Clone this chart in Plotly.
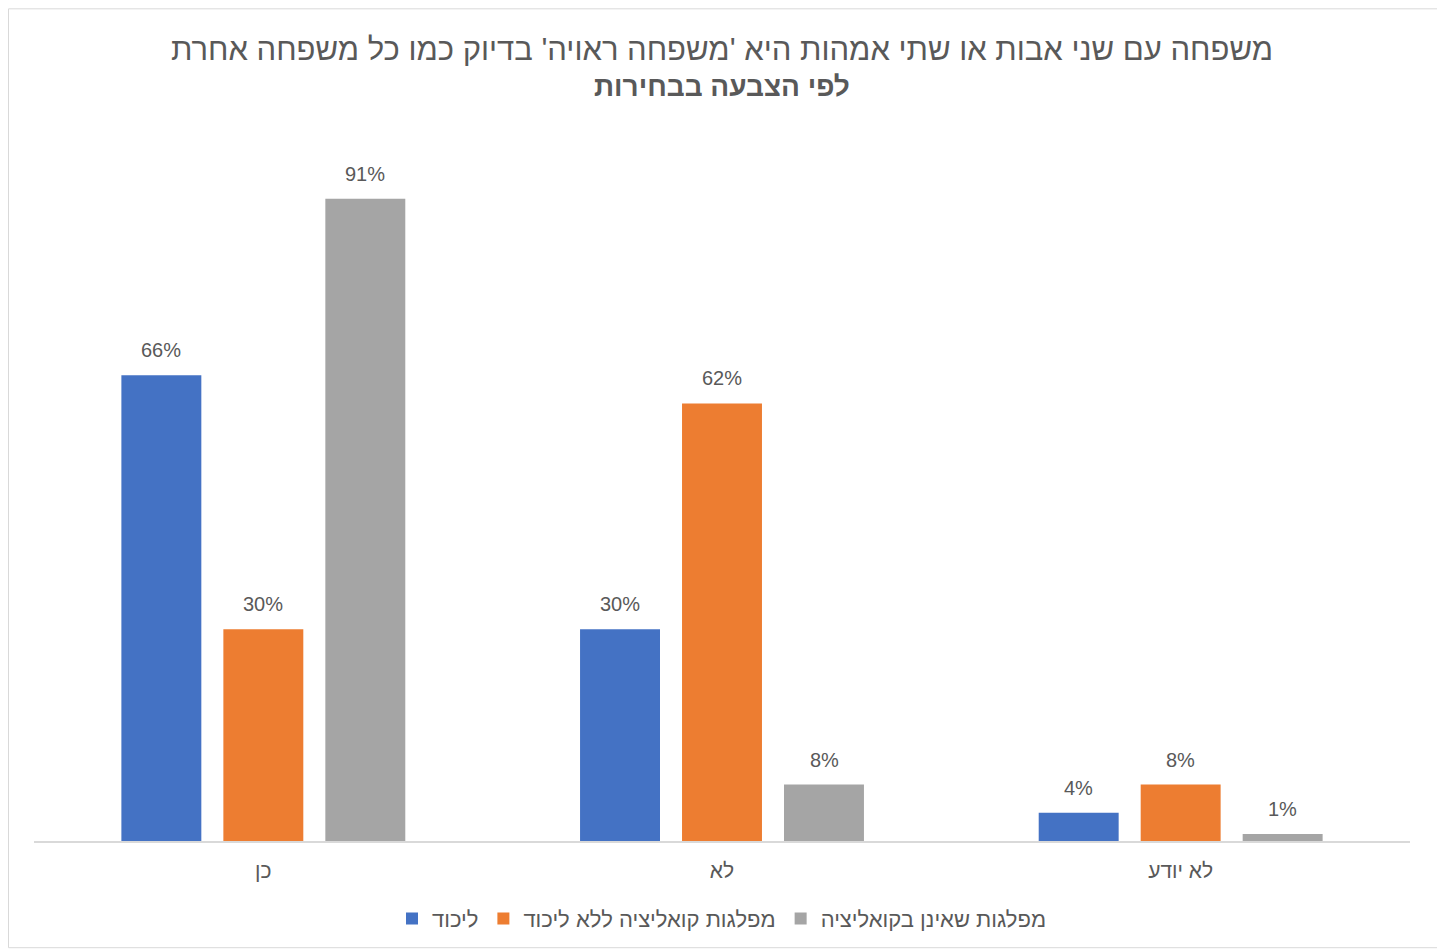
import plotly.graph_objects as go

categories = ["כן", "לא", "לא יודע"]
series_names = ["ליכוד", "מפלגות קואליציה ללא ליכוד", "מפלגות שאינן בקואליציה"]
likud = [66, 30, 4]
coalition_no_likud = [30, 62, 8]
non_coalition = [91, 8, 1]
colors = ["#4472C4", "#ED7D31", "#A5A5A5"]

title_line1 = "משפחה עם שני אבות או שתי אמהות היא 'משפחה ראויה' בדיוק כמו כל משפחה אחרת"
title_line2 = "לפי הצבעה בבחירות"

FONT = "Segoe UI, Liberation Sans, DejaVu Sans, sans-serif"
TXT = "#595959"

OFF = 8  # page body margin
W, H = 1445 - OFF, 952 - OFF
L = 34 - OFF
R = 1445 - 1410
T = 130 - OFF
B = 952 - 843
pw, ph = W - L - R, H - T - B


def px2x(p):
    return (p - OFF - L) / pw


def px2y(p):
    return (H - B - (p - OFF)) / ph


fig = go.Figure()
all_vals = [likud, coalition_no_likud, non_coalition]
for name, vals, col in zip(series_names, all_vals, colors):
    fig.add_trace(go.Bar(
        x=categories, y=vals, name=name,
        marker=dict(color=col, line=dict(width=0)),
    ))

# data labels placed via data coordinates
slot = 102
for i, vals in enumerate(all_vals):
    for c, v in zip(categories, vals):
        fig.add_annotation(
            x=c, y=v, xref="x", yref="y", text=f"{v}%", showarrow=False,
            xshift=(i - 1) * slot, yshift=25, yanchor="middle",
            font=dict(size=20, color=TXT, family=FONT),
        )

# title lines
fig.add_annotation(x=0.5, y=px2y(49), xref="paper", yref="paper",
                   text=title_line1, showarrow=False, xanchor="center", yanchor="middle",
                   font=dict(size=31, color=TXT, family=FONT))
fig.add_annotation(x=0.5, y=px2y(86), xref="paper", yref="paper",
                   text=f"<b>{title_line2}</b>", showarrow=False, xanchor="center", yanchor="middle",
                   font=dict(size=28, color=TXT, family=FONT))

fig.update_layout(
    width=W, height=H,
    margin=dict(l=L, r=R, t=T, b=B),
    paper_bgcolor="white", plot_bgcolor="white",
    barmode="group", bargap=0.333, bargroupgap=0.216,
    font=dict(family=FONT, color=TXT),
    xaxis=dict(showline=True, linecolor="#D9D9D9", linewidth=1.5,
               ticks="", tickfont=dict(size=21, color=TXT, family=FONT),
               ticklabelstandoff=10, showgrid=False),
    yaxis=dict(visible=False, range=[0, ph / ((843 - 199) / 91)],
               showgrid=False, zeroline=False),
    legend=dict(orientation="h", x=0.5, xanchor="center",
                y=px2y(921), yanchor="middle",
                font=dict(size=22, color=TXT, family=FONT),
                itemwidth=30),
    showlegend=True,
)

fig.add_shape(type="rect", xref="paper", yref="paper",
              x0=px2x(8.5), x1=px2x(1439.5), y0=px2y(950), y1=px2y(8.5),
              line=dict(color="#D9D9D9", width=1), layer="below")

fig.write_html("out.html")
